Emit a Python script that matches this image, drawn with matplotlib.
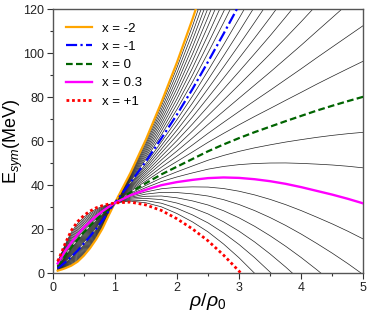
import numpy as np
import matplotlib
matplotlib.use('Agg')
import matplotlib.pyplot as plt
from matplotlib.ticker import MultipleLocator

plt.rcParams['font.family'] = ['Liberation Sans', 'DejaVu Sans']
plt.rcParams['mathtext.fontset'] = 'custom'
plt.rcParams['mathtext.rm'] = 'Liberation Sans'
plt.rcParams['mathtext.it'] = 'Liberation Sans:italic'

# density grid (rho/rho0) and symmetry energy (MeV)
rho = [0.08, 0.15, 0.2, 0.3, 0.4, 0.5, 0.6, 0.7, 0.8, 0.9, 1.0,
       1.25, 1.5, 1.75, 2.0, 2.25, 2.5, 2.75, 3.0, 3.25, 3.5, 3.75,
       4.0, 4.25, 4.5, 4.75, 5.0]

esym_xm2 = [1.2, 1.8, 2.3, 3.5, 5.3, 8.0, 11.4, 15.5, 20.3, 26.3, 32.0,
            45.6, 60.8, 77.8, 95.9, 115.6, 136.9, 159.2, 182.5, 206.8,
            232.1, 258.6, 285.8, 314.2, 343.4, 373.3, 404.1]
esym_xm1 = [2.3, 3.8, 5.0, 7.5, 10.3, 13.5, 16.8, 20.3, 24.0, 28.2, 32.0,
            41.2, 50.9, 61.4, 72.2, 83.8, 96.2, 108.9, 122.0, 135.5,
            149.4, 163.9, 178.7, 194.1, 209.8, 225.8, 242.2]
esym_x0 = [3.3, 6.0, 8.0, 11.8, 15.3, 18.6, 21.6, 24.4, 27.0, 29.6, 32.0,
           36.8, 41.0, 45.0, 48.5, 52.0, 55.5, 58.6, 61.5, 64.2, 66.7,
           69.2, 71.6, 74.0, 76.2, 78.3, 80.3]
esym_x03 = [4.5, 7.8, 10.2, 14.0, 17.6, 20.8, 23.5, 26.0, 28.2, 30.2, 32.0,
            35.5, 38.0, 40.1, 41.5, 42.5, 43.3, 43.6, 43.4, 42.8, 41.9,
            40.7, 39.2, 37.5, 35.8, 33.9, 31.8]
esym_xp1 = [5.5, 10.0, 13.5, 19.5, 23.5, 26.3, 28.3, 29.8, 30.8, 31.5, 32.0,
            32.4, 31.1, 28.6, 24.8, 20.2, 14.8, 8.3, 1.0, -7.1, -16.0,
            -25.5, -35.5, -46.1, -57.4, -69.2, -81.6]

x_main = [-2, -1, 0, 0.3, 1]
labels = ['x = -2', 'x = -1', 'x = 0', 'x = 0.3', 'x = +1']
x_thin = np.round(np.arange(-2.0, 1.001, 0.1), 1)

rho = np.array(rho)
curves = np.array([esym_xm2, esym_xm1, esym_x0, esym_x03, esym_xp1])

fig = plt.figure(figsize=(3.73, 3.16), dpi=100)
ax = fig.add_axes([0.1413, 0.135, 0.8327, 0.8351])

# thin family: between the highlighted x values
for xv in x_thin:
    if xv in x_main:
        continue
    e = [np.interp(xv, x_main, curves[:, i]) for i in range(len(rho))]
    ax.plot(rho, e, color='#222222', lw=0.5, zorder=2)

styles = [
    dict(color='#FFA500', ls='-', lw=1.6),
    dict(color='#0000FF', ls=(0, (5, 1.5, 1, 1.5)), lw=1.6),
    dict(color='#006400', ls=(0, (3, 1.5)), lw=1.6),
    dict(color='#FF00FF', ls='-', lw=1.7),
    dict(color='#FF0000', ls=(0, (1, 1)), lw=2.0),
]
for c, lab, st in zip(curves, labels, styles):
    ax.plot(rho, c, label=lab, zorder=3, **st)

ax.set_xlim(0, 5)
ax.set_ylim(0, 120)
ax.xaxis.set_major_locator(MultipleLocator(1))
ax.xaxis.set_minor_locator(MultipleLocator(0.5))
ax.yaxis.set_major_locator(MultipleLocator(20))
ax.yaxis.set_minor_locator(MultipleLocator(10))
ax.tick_params(which='major', direction='out', length=4, width=0.8,
               labelsize=9, colors='#333333', labelcolor='#222222', pad=2)
ax.tick_params(which='minor', direction='out', length=2, width=0.8,
               colors='#333333')
for sp in ax.spines.values():
    sp.set_color('#555555')
    sp.set_linewidth(1.0)

ax.set_xlabel(r'$\rho/\rho_0$', fontsize=14)
ax.xaxis.set_label_coords(0.5, -0.068)
ax.set_ylabel(r'E$_{sym}$(MeV)', fontsize=13)
ax.yaxis.set_label_coords(-0.088, 0.5)

ax.legend(loc='upper left', frameon=False, fontsize=9.5, handlelength=2.0,
          handletextpad=0.7, labelspacing=0.45, borderaxespad=0.6,
          bbox_to_anchor=(0.0, 1.0))

fig.savefig('out.png', dpi=100)
